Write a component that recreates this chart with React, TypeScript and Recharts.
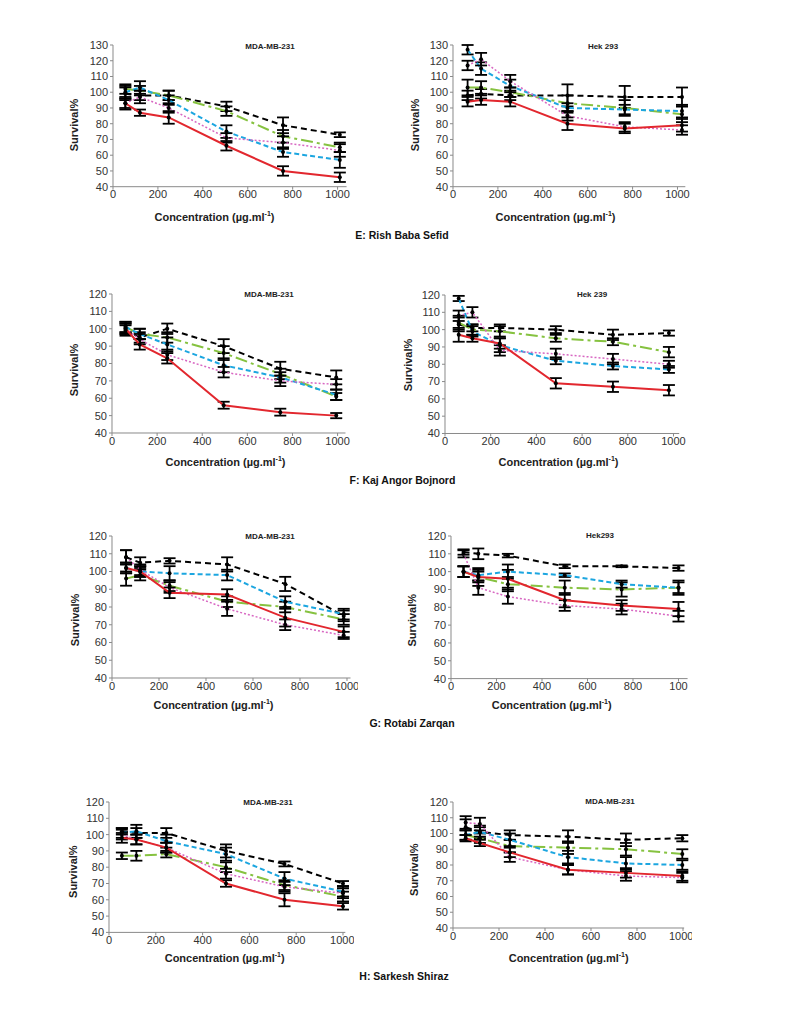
import React from 'react';
import { LineChart, Line, XAxis, YAxis, ErrorBar, Label } from 'recharts';

// series order in every panel: black, green, blue, pink, red
const eLeftConc = [55, 120, 248, 505, 757, 1010];
const eLeftMeans = [
  [99, 98, 98, 91, 79, 73],
  [102, 101, 98, 88, 72, 65],
  [100, 103, 95, 75, 62, 57],
  [93, 97, 90, 71, 68, 63],
  [93, 87, 84, 66, 50, 46],
];
const eLeftErrs = [
  [4, 3, 3, 3, 5, 1.5],
  [3, 3, 3, 3, 4, 3],
  [4, 4, 3, 4, 3, 5],
  [4, 4, 3, 3, 4, 4],
  [3, 2, 4, 3, 3, 3],
];

const eRightConc = [65, 125, 255, 510, 765, 1020];
const eRightMeans = [
  [98, 99, 98, 98, 97, 97],
  [103, 103, 100, 93, 90, 86],
  [127, 115, 104, 90, 89, 88],
  [117, 121, 107, 85, 78, 76],
  [94, 95, 94, 80, 77, 79],
];
const eRightErrs = [
  [3, 3, 3, 7, 7, 6],
  [5, 4, 3, 5, 5, 5],
  [3, 4, 4, 3, 3, 4],
  [3, 4, 4, 3, 3, 3],
  [3, 3, 3, 4, 3, 4],
];

const fLeftConc = [60, 123, 245, 495, 746, 994];
const fLeftMeans = [
  [99, 95, 100, 90, 77, 72],
  [101, 97, 95, 86, 74, 61],
  [101, 97, 91, 79, 72, 62],
  [100, 94, 85, 75, 70, 68],
  [100, 91, 83, 56, 52, 50],
];
const fLeftErrs = [
  [3, 3, 3, 4, 4, 4],
  [3, 3, 3, 4, 3, 2],
  [3, 3, 4, 4, 3, 3],
  [3, 3, 3, 3, 3, 3],
  [3, 3, 3, 2, 2, 1.5],
];

const fRightConc = [60, 120, 240, 485, 735, 980];
const fRightMeans = [
  [103, 101, 101, 100, 97, 98],
  [104, 100, 99, 95, 93, 87],
  [118, 99, 91, 82, 79, 77],
  [108, 110, 88, 86, 83, 80],
  [97, 95, 92, 69, 67, 65],
];
const fRightErrs = [
  [4, 2, 2, 2, 3, 1.5],
  [4, 3, 3, 2, 2, 3],
  [1.5, 3, 4, 2, 2, 2],
  [3, 3, 3, 3, 3, 2],
  [4, 2, 3, 3, 3, 3],
];

const gLeftConc = [60, 120, 245, 490, 737, 986];
const gLeftMeans = [
  [108, 105, 106, 104, 93, 75],
  [96, 98, 92, 83, 80, 73],
  [102, 100, 99, 98, 83, 76],
  [108, 101, 91, 79, 70, 64],
  [102, 100, 88, 87, 74, 66],
];
const gLeftErrs = [
  [4, 3, 1.5, 4, 4, 3],
  [4, 3, 3, 3, 3, 3],
  [3, 3, 4, 3, 3, 3],
  [4, 3, 3, 4, 3, 2],
  [3, 3, 3, 3, 5, 3],
];

const gRightConc = [55, 120, 250, 500, 750, 1000];
const gRightMeans = [
  [111, 110, 109, 103, 103, 102],
  [100, 97, 93, 91, 90, 91],
  [100, 98, 100, 98, 93, 91],
  [110, 91, 86, 81, 79, 75],
  [100, 97, 96, 84, 81, 79],
];
const gRightErrs = [
  [1.5, 3, 1, 1, 0.5, 1.5],
  [3, 5, 4, 4, 4, 4],
  [3, 3, 4, 1, 2, 3],
  [2, 4, 4, 3, 3, 3],
  [3, 3, 5, 4, 3, 4],
];

const hLeftConc = [55, 117, 245, 500, 750, 1000];
const hLeftMeans = [
  [102, 101, 101, 90, 82, 70],
  [87, 87, 88, 80, 69, 62],
  [101, 102, 96, 88, 73, 65],
  [100, 97, 92, 76, 68, 64],
  [98, 97, 92, 70, 60, 56],
];
const hLeftErrs = [
  [2, 3, 3, 4, 1.5, 1.5],
  [2, 3, 2, 3, 3, 3],
  [3, 4, 4, 4, 4, 3],
  [3, 3, 3, 3, 3, 3],
  [3, 3, 3, 2, 4, 2],
];

const hRightConc = [55, 117, 247, 500, 752, 997];
const hRightMeans = [
  [104, 101, 99, 98, 96, 97],
  [99, 97, 92, 91, 90, 87],
  [99, 101, 96, 85, 81, 80],
  [107, 106, 85, 77, 73, 72],
  [97, 94, 88, 77, 75, 73],
];
const hRightErrs = [
  [5, 4, 3, 4, 4, 2],
  [3, 3, 4, 4, 4, 3],
  [3, 3, 4, 4, 4, 3],
  [4, 4, 3, 3, 3, 3],
  [2, 2, 3, 3, 3, 3],
];

const xTicks = [0, 200, 400, 600, 800, 1000];

const seriesStyle = [
  { color: '#000000', dash: '6 4', width: 2 },
  { color: '#86c240', dash: '12 4 3 4', width: 2 },
  { color: '#1ca6e0', dash: '5 3', width: 2 },
  { color: '#d867c2', dash: '2 2', width: 1.5 },
  { color: '#e2272e', dash: undefined, width: 2 },
];

const FONT = "Arial, 'Liberation Sans', sans-serif";
const Y_W = 46;
const M_TOP = 6;
const M_RIGHT = 8;
const X_H = 44;

type PanelProps = {
  conc: number[];
  means: number[][];
  errs: number[][];
  left0: number;
  per1000: number;
  xMax: number;
  top: number;
  bottom: number;
  yMax: number;
  title: string;
  titleX: number;
  titleY: number;
  xTitleX: number;
  xTitleY: number;
  yTitleX: number;
  yTitleY: number;
  lastTick?: string;
};

function Panel(p: PanelProps) {
  const plotW = (p.per1000 * p.xMax) / 1000;
  const plotH = p.bottom - p.top;
  const width = Y_W + plotW + M_RIGHT;
  const height = M_TOP + plotH + X_H;
  const ox = p.left0 - Y_W;
  const oy = p.top - M_TOP;

  const rows = p.conc.map((x, i) => {
    const row: any = { x };
    p.means.forEach((s, k) => {
      row['s' + k] = s[i];
      row['e' + k] = p.errs[k][i];
    });
    return row;
  });

  const yTicks: number[] = [];
  for (let v = 40; v <= p.yMax; v += 10) yTicks.push(v);

  const xTitle = () => (
    <text
      x={p.xTitleX - ox}
      y={p.xTitleY - oy}
      textAnchor="middle"
      dominantBaseline="central"
      fontFamily={FONT}
      fontSize={11}
      fontWeight="bold"
      fill="#222"
    >
      Concentration (µg.ml
      <tspan dy={-4} fontSize={7}>-1</tspan>
      <tspan dy={4}>)</tspan>
    </text>
  );

  const yTitle = () => (
    <text
      x={p.yTitleX - ox}
      y={p.yTitleY - oy}
      textAnchor="middle"
      dominantBaseline="central"
      fontFamily={FONT}
      fontSize={11}
      fontWeight="bold"
      fill="#222"
      transform={`rotate(-90, ${p.yTitleX - ox}, ${p.yTitleY - oy})`}
    >
      Survival%
    </text>
  );

  return (
    <>
      <div style={{ position: 'absolute', left: ox, top: oy }}>
        <LineChart
          width={width}
          height={height}
          data={rows}
          margin={{ top: M_TOP, right: M_RIGHT, bottom: 0, left: 0 }}
        >
          <XAxis
            type="number"
            dataKey="x"
            domain={[0, p.xMax]}
            ticks={xTicks}
            height={X_H}
            tickSize={3}
            tickMargin={1}
            tick={{ fontSize: 11, fill: '#333', fontFamily: FONT }}
            tickFormatter={(v: number) => (v === 1000 && p.lastTick ? p.lastTick : String(v))}
            axisLine={{ stroke: '#8a8a8a' }}
            tickLine={{ stroke: '#8a8a8a' }}
          >
            <Label content={xTitle} />
          </XAxis>
          <YAxis
            type="number"
            domain={[40, p.yMax]}
            ticks={yTicks}
            width={Y_W}
            tickSize={3}
            tickMargin={2}
            interval={0}
            tick={{ fontSize: 11, fill: '#333', fontFamily: FONT }}
            axisLine={{ stroke: '#8a8a8a' }}
            tickLine={{ stroke: '#8a8a8a' }}
          >
            <Label content={yTitle} />
          </YAxis>
          {seriesStyle.map((s, k) => (
            <Line
              key={k}
              type="linear"
              dataKey={'s' + k}
              stroke={s.color}
              strokeWidth={s.width}
              strokeDasharray={s.dash}
              dot={{ r: 2, fill: '#000', stroke: '#000', strokeWidth: 0 }}
              activeDot={false}
              isAnimationActive={false}
            >
              <ErrorBar
                dataKey={'e' + k}
                direction="y"
                width={6}
                strokeWidth={1.8}
                stroke="#000"
                isAnimationActive={false}
              />
            </Line>
          ))}
        </LineChart>
      </div>
      <div
        style={{
          position: 'absolute',
          left: p.titleX - 60,
          width: 120,
          top: p.titleY - 6,
          lineHeight: '12px',
          textAlign: 'center',
          fontFamily: FONT,
          fontSize: 8,
          fontWeight: 'bold',
          color: '#222',
        }}
      >
        {p.title}
      </div>
    </>
  );
}

function Caption({ text, cx, cy }: { text: string; cx: number; cy: number }) {
  return (
    <div
      style={{
        position: 'absolute',
        left: cx - 100,
        width: 200,
        top: cy - 7,
        lineHeight: '14px',
        textAlign: 'center',
        fontFamily: FONT,
        fontSize: 10.5,
        fontWeight: 'bold',
        color: '#111',
      }}
    >
      {text}
    </div>
  );
}

export default function App() {
  return (
    <div style={{ position: 'absolute', left: 0, top: 0, width: 800, height: 1035, background: '#fff', overflow: 'hidden' }}>
      <Panel conc={eLeftConc} means={eLeftMeans} errs={eLeftErrs} left0={112.5} per1000={224.6} xMax={1040}
        top={45} bottom={186.7} yMax={130} title="MDA-MB-231" titleX={270} titleY={47}
        xTitleX={214} xTitleY={217} yTitleX={74} yTitleY={125} />
      <Panel conc={eRightConc} means={eRightMeans} errs={eRightErrs} left0={452.5} per1000={224.5} xMax={1035}
        top={45} bottom={186.7} yMax={130} title="Hek 293" titleX={603} titleY={47}
        xTitleX={555} xTitleY={217} yTitleX={415} yTitleY={125} />
      <Caption text="E: Rish Baba Sefid" cx={402} cy={234.5} />

      <Panel conc={fLeftConc} means={fLeftMeans} errs={fLeftErrs} left0={111.5} per1000={225.6} xMax={1035}
        top={294} bottom={433} yMax={120} title="MDA-MB-231" titleX={269} titleY={295}
        xTitleX={225} xTitleY={462} yTitleX={74} yTitleY={370} />
      <Panel conc={fRightConc} means={fRightMeans} errs={fRightErrs} left0={444.5} per1000={228.5} xMax={1025}
        top={295} bottom={433.5} yMax={120} title="Hek 239" titleX={592} titleY={295}
        xTitleX={558} xTitleY={462} yTitleX={408} yTitleY={365} />
      <Caption text="F: Kaj Angor Bojnord" cx={402.5} cy={480} />

      <Panel conc={gLeftConc} means={gLeftMeans} errs={gLeftErrs} left0={111.5} per1000={235} xMax={1015}
        top={536} bottom={678} yMax={120} title="MDA-MB-231" titleX={270} titleY={537}
        xTitleX={213} xTitleY={705} yTitleX={75} yTitleY={620} />
      <Panel conc={gRightConc} means={gRightMeans} errs={gRightErrs} left0={451.3} per1000={227.5} xMax={1040}
        top={535.7} bottom={678.3} yMax={120} title="Hek293" titleX={600} titleY={536}
        xTitleX={552} xTitleY={705} yTitleX={412} yTitleY={620} lastTick="100" />
      <Caption text="G: Rotabi Zarqan" cx={412} cy={723} />

      <Panel conc={hLeftConc} means={hLeftMeans} errs={hLeftErrs} left0={109.3} per1000={234} xMax={1010}
        top={802.3} bottom={932.7} yMax={120} title="MDA-MB-231" titleX={268} titleY={803}
        xTitleX={225} xTitleY={958} yTitleX={73} yTitleY={872} />
      <Panel conc={hRightConc} means={hRightMeans} errs={hRightErrs} left0={453.3} per1000={230} xMax={1005}
        top={802.3} bottom={928.3} yMax={120} title="MDA-MB-231" titleX={610} titleY={802}
        xTitleX={569} xTitleY={958} yTitleX={414} yTitleY={870} />
      <Caption text="H: Sarkesh Shiraz" cx={404} cy={976} />
    </div>
  );
}
